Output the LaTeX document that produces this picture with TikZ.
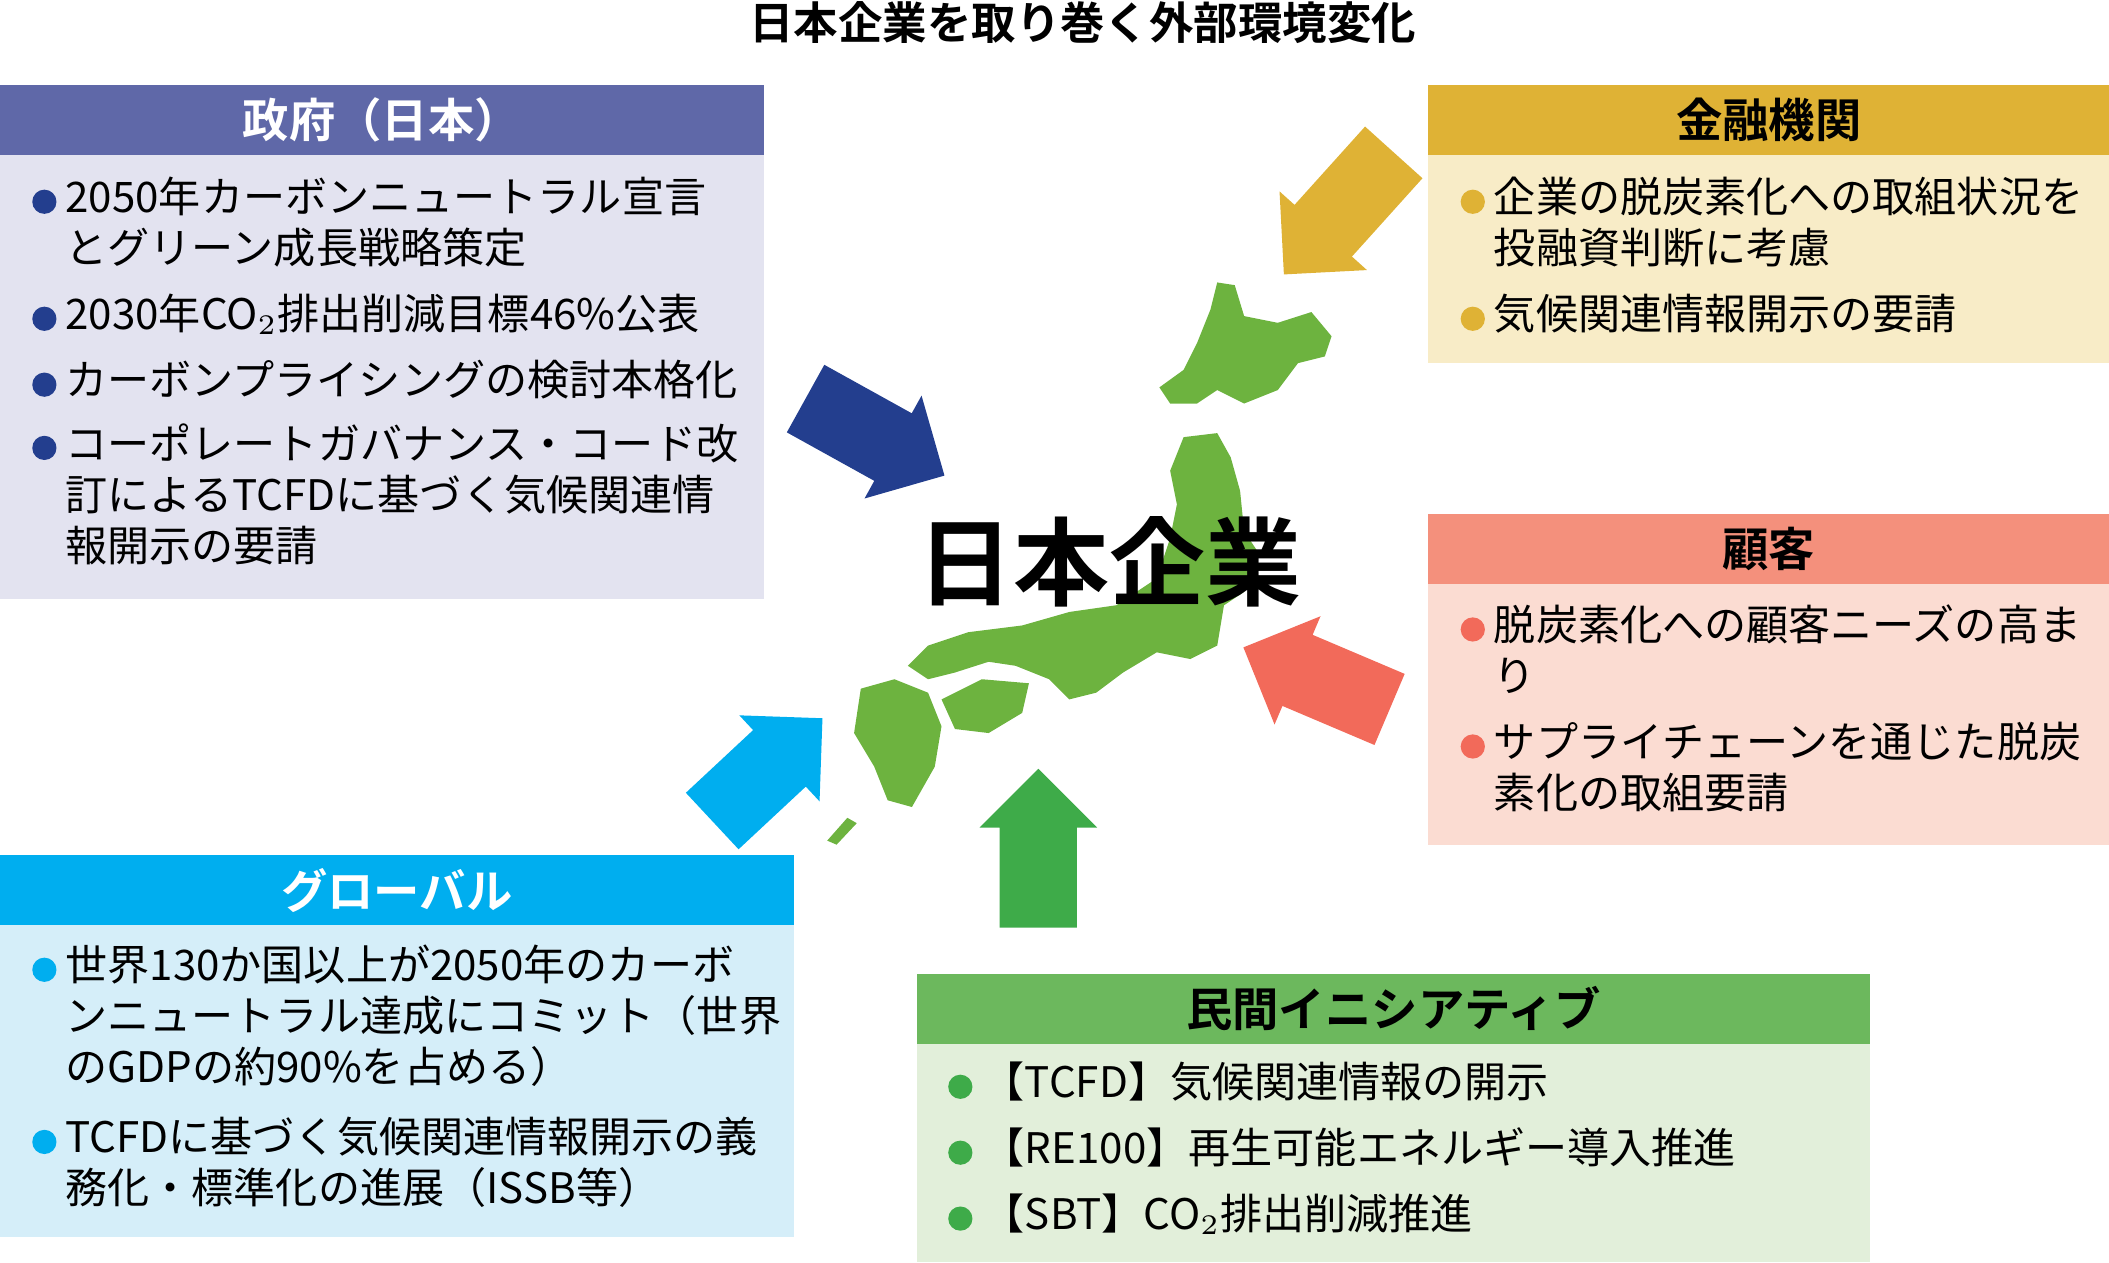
\documentclass[tikz,border=0pt]{standalone}
\usepackage{fontspec}
\setmainfont{Noto Sans CJK JP}
\newfontfamily\jpbold{Noto Sans CJK JP Bold}
\usetikzlibrary{shapes.arrows}
\definecolor{govhd}{HTML}{5F68A8}\definecolor{govbg}{HTML}{E3E3F0}\definecolor{govdot}{HTML}{233E8E}
\definecolor{finhd}{HTML}{DFB235}\definecolor{finbg}{HTML}{F8ECC7}
\definecolor{cushd}{HTML}{F4907C}\definecolor{cusbg}{HTML}{FBDCD2}\definecolor{cusdot}{HTML}{F26A5A}
\definecolor{glohd}{HTML}{00AEEF}\definecolor{globg}{HTML}{D5EEF9}
\definecolor{prihd}{HTML}{6CB85D}\definecolor{pribg}{HTML}{E2EFDA}\definecolor{pridot}{HTML}{3EAB49}
\definecolor{land}{HTML}{6DB33F}
\tikzstyle{hdr} = [font=\fontsize{9.8pt}{11pt}\jpbold, text=black]
\tikzstyle{item} = [anchor=north west, align=left, inner sep=0pt, font=\fontsize{8.9pt}{10.8pt}\selectfont]
\tikzstyle{blt} = [circle, inner sep=0pt, minimum size=0.18cm]
\tikzstyle{bigarrow} = [single arrow, minimum width=0.86cm, single arrow head extend=0.15cm, inner xsep=0pt, inner ysep=0.28cm]
\newcommand{\dotat}[3]{\node [blt, fill=#1] (#2) at #3 {};}
\begin{document}
\begin{tikzpicture}[x=0.01cm,y=-0.01cm]
\useasboundingbox (0,0) rectangle (1568,939);
\node[font=\fontsize{9.4pt}{10pt}\jpbold] (title) at (805,17) {日本企業を取り巻く外部環境変化};
% boxes
\fill[govhd] (0,63) rectangle (568,115); \fill[govbg] (0,115) rectangle (568,445);
\fill[finhd] (1062,63) rectangle (1568,115); \fill[finbg] (1062,115) rectangle (1568,270);
\fill[cushd] (1062,382) rectangle (1568,434); \fill[cusbg] (1062,434) rectangle (1568,628);
\fill[glohd] (0,636) rectangle (590,688); \fill[globg] (0,688) rectangle (590,920);
\fill[prihd] (682,724) rectangle (1390,776); \fill[pribg] (682,776) rectangle (1390,938);
\node[hdr, text=white] (govh) at (284,89) {政府（日本）};
\node[hdr] (finh) at (1315,89) {金融機関};
\node[hdr] (cush) at (1315,408) {顧客};
\node[hdr, text=white] (gloh) at (295,662) {グローバル};
\node[hdr] (prih) at (1036,750) {民間イニシアティブ};
% government
\dotat{govdot}{g1}{(33,150)} \node[item] (gt1) at (48,131) {2050年カーボンニュートラル宣言\\とグリーン成長戦略策定};
\dotat{govdot}{g2}{(33,237)} \node[item] (gt2) at (48,218) {2030年CO$_2$排出削減目標46\%公表};
\dotat{govdot}{g3}{(33,286)} \node[item] (gt3) at (48,267) {カーボンプライシングの検討本格化};
\dotat{govdot}{g4}{(33,333)} \node[item] (gt4) at (48,314) {コーポレートガバナンス・コード改\\訂によるTCFDに基づく気候関連情\\報開示の要請};
% finance
\dotat{finhd}{f1}{(1095,150)} \node[item] (ft1) at (1110,131) {企業の脱炭素化への取組状況を\\投融資判断に考慮};
\dotat{finhd}{f2}{(1095,237)} \node[item] (ft2) at (1110,218) {気候関連情報開示の要請};
% customers
\dotat{cusdot}{c1}{(1095,468)} \node[item] (ct1) at (1110,449) {脱炭素化への顧客ニーズの高ま\\り};
\dotat{cusdot}{c2}{(1095,555)} \node[item] (ct2) at (1110,536) {サプライチェーンを通じた脱炭\\素化の取組要請};
% global
\dotat{glohd}{o1}{(33,721)} \node[item] (ot1) at (48,702) {世界130か国以上が2050年のカーボ\\ンニュートラル達成にコミット（世界\\のGDPの約90\%を占める）};
\dotat{glohd}{o2}{(33,849)} \node[item] (ot2) at (48,830) {TCFDに基づく気候関連情報開示の義\\務化・標準化の進展（ISSB等）};
% private initiatives
\dotat{pridot}{p1}{(714,808)} \node[item] (pt1) at (730,789) {【TCFD】気候関連情報の開示};
\dotat{pridot}{p2}{(714,857)} \node[item] (pt2) at (730,838) {【RE100】再生可能エネルギー導入推進};
\dotat{pridot}{p3}{(714,906)} \node[item] (pt3) at (730,887) {【SBT】CO$_2$排出削減推進};
% map of Japan
\fill[land] (905,210) -- (918,212) -- (925,235) -- (950,240) -- (975,232) -- (990,250) -- (985,265) -- (965,270) -- (950,290)
  -- (925,300) -- (905,290) -- (890,300) -- (870,300) -- (862,288) -- (880,275) -- (890,255) -- (900,230) -- cycle;
\fill[land] (880,325) -- (905,322) -- (915,340) -- (922,365) -- (925,395) -- (935,410) -- (925,440) -- (910,450) -- (905,480)
  -- (885,490) -- (860,485) -- (835,500) -- (815,515) -- (795,520) -- (780,505) -- (755,495) -- (735,492) -- (710,500)
  -- (690,505) -- (675,495) -- (690,480) -- (720,470) -- (760,465) -- (795,455) -- (830,450) -- (860,430) -- (870,400)
  -- (875,375) -- (870,350) -- cycle;
\fill[land] (700,520) -- (730,505) -- (765,508) -- (760,530) -- (735,545) -- (710,542) -- cycle;
\fill[land] (640,512) -- (665,505) -- (690,515) -- (700,540) -- (695,570) -- (678,600) -- (660,595) -- (650,570) -- (635,545) -- cycle;
\fill[land] (615,625) -- (630,608) -- (637,612) -- (622,628) -- cycle;
\node[font=\fontsize{20.3pt}{24pt}\jpbold] (corp) at (825,418) {日本企業};
% arrows
\node[bigarrow, fill=govdot, minimum height=1.18cm, rotate=-29] (ag) at (638,318) {};
\node[bigarrow, fill=finhd, minimum height=1.22cm, rotate=-132] (af) at (1005,148) {};
\node[bigarrow, fill=cusdot, minimum height=1.18cm, rotate=157] (ac) at (992,510) {};
\node[bigarrow, fill=glohd, minimum height=1.12cm, rotate=43] (ao) at (560,582) {};
\node[bigarrow, fill=pridot, minimum height=1.18cm, rotate=90] (ap) at (772,645) {};
\end{tikzpicture}
\end{document}
